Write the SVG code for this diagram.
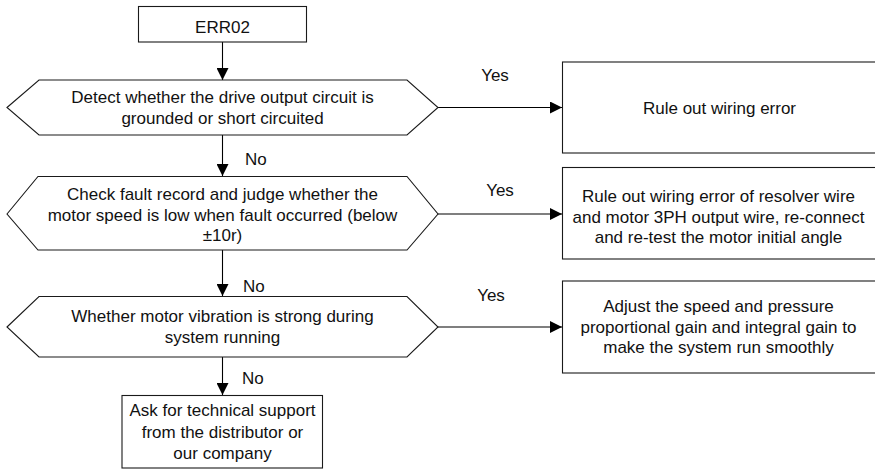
<svg xmlns="http://www.w3.org/2000/svg" width="875" height="469" viewBox="0 0 875 469">
<defs>
<marker id="ah" viewBox="0 0 10 10" refX="10" refY="5" markerWidth="12" markerHeight="12" markerUnits="userSpaceOnUse" orient="auto">
<path d="M0,0 L10,5 L0,10 z" fill="#000"/>
</marker>
<style>
.s{fill:#fff;stroke:#1a1a1a;stroke-width:1.1}
.t{font-family:"Liberation Sans",Arial,sans-serif;font-size:17px;fill:#111;text-anchor:middle}
.l{font-family:"Liberation Sans",Arial,sans-serif;font-size:17px;fill:#111}
.c{fill:none;stroke:#000;stroke-width:1.1;marker-end:url(#ah)}
</style>
</defs>
<rect width="875" height="469" fill="#fff"/>
<g id="connectors">
<line class="c" x1="222.5" y1="42" x2="222.5" y2="80"/>
<line class="c" x1="222.5" y1="135" x2="222.5" y2="176"/>
<line class="c" x1="222.5" y1="250" x2="222.5" y2="296"/>
<line class="c" x1="222.5" y1="357" x2="222.5" y2="395"/>
<line class="c" x1="438" y1="107.5" x2="562" y2="107.5"/>
<line class="c" x1="438" y1="214" x2="562" y2="214"/>
<line class="c" x1="438" y1="327" x2="562" y2="327"/>
<text class="l" x="245" y="165">No</text>
<text class="l" x="243" y="291.5">No</text>
<text class="l" x="242" y="383.5">No</text>
<text class="t" x="495" y="81">Yes</text>
<text class="t" x="500" y="196">Yes</text>
<text class="t" x="491" y="301">Yes</text>
</g>
<g id="start">
<rect class="s" x="138.5" y="6.5" width="168" height="35.5"/>
<text class="t" x="222.5" y="32.5">ERR02</text>
</g>
<g id="d1">
<polygon class="s" points="7,107.5 39,80 407,80 438,107.5 407,135 39,135"/>
<text class="t" x="222.5" y="103">Detect whether the drive output circuit is</text>
<text class="t" x="222.5" y="124">grounded or short circuited</text>
</g>
<g id="d2">
<polygon class="s" points="7,214 38,176.5 407,176.5 438,214 407,250 38,250"/>
<text class="t" x="222.5" y="200">Check fault record and judge whether the</text>
<text class="t" x="222.5" y="220.5">motor speed is low when fault occurred (below</text>
<text class="t" x="222.5" y="241">±10r)</text>
</g>
<g id="d3">
<polygon class="s" points="7,327 39,296.5 407,296.5 438,327 407,357 39,357"/>
<text class="t" x="222.5" y="322">Whether motor vibration is strong during</text>
<text class="t" x="222.5" y="343">system running</text>
</g>
<g id="end">
<rect class="s" x="122" y="395.5" width="200.5" height="72.5"/>
<text class="t" x="222.5" y="416">Ask for technical support</text>
<text class="t" x="222.5" y="437.5">from the distributor or</text>
<text class="t" x="222.5" y="459">our company</text>
</g>
<g id="r1">
<rect class="s" x="562.5" y="62" width="320" height="91"/>
<text class="t" x="719.5" y="114">Rule out wiring error</text>
</g>
<g id="r2">
<rect class="s" x="562.5" y="167.5" width="320" height="91.5"/>
<text class="t" x="718.5" y="202">Rule out wiring error of resolver wire</text>
<text class="t" x="718.5" y="222.5">and motor 3PH output wire, re-connect</text>
<text class="t" x="718.5" y="243">and re-test the motor initial angle</text>
</g>
<g id="r3">
<rect class="s" x="562.5" y="281" width="320" height="92"/>
<text class="t" x="718.5" y="312">Adjust the speed and pressure</text>
<text class="t" x="718.5" y="332.5">proportional gain and integral gain to</text>
<text class="t" x="718.5" y="353">make the system run smoothly</text>
</g>
</svg>
